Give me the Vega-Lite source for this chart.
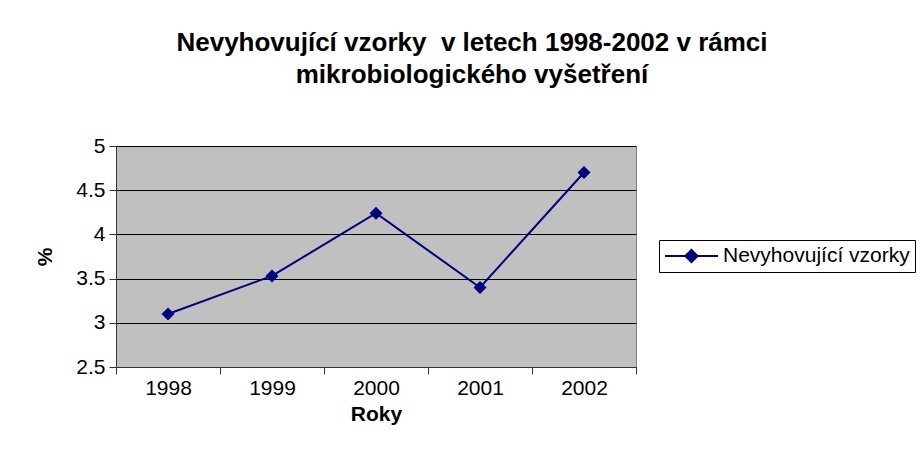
{
  "$schema": "https://vega.github.io/schema/vega-lite/v6.json",
  "width": 520,
  "height": 221,
  "autosize": "none",
  "padding": {"left": 116, "top": 146, "right": 281, "bottom": 101},
  "background": "white",
  "title": {
    "text": ["Nevyhovující vzorky \u00a0v letech 1998-2002 v rámci", "mikrobiologického vyšetření"],
    "font": "Liberation Sans",
    "fontSize": 26,
    "fontWeight": "bold",
    "color": "black",
    "anchor": "middle",
    "dx": 96,
    "lineHeight": 32,
    "offset": 47
  },
  "data": {
    "values": [
      {"year": "1998", "value": 3.1, "series": "Nevyhovující vzorky"},
      {"year": "1999", "value": 3.53, "series": "Nevyhovující vzorky"},
      {"year": "2000", "value": 4.24, "series": "Nevyhovující vzorky"},
      {"year": "2001", "value": 3.4, "series": "Nevyhovující vzorky"},
      {"year": "2002", "value": 4.7, "series": "Nevyhovující vzorky"}
    ]
  },
  "mark": {
    "type": "line",
    "strokeWidth": 2,
    "point": {"shape": "diamond", "size": 170, "filled": true, "opacity": 1}
  },
  "encoding": {
    "x": {
      "field": "year",
      "type": "ordinal",
      "scale": {"paddingInner": 0, "paddingOuter": 0},
      "axis": {
        "title": "Roky",
        "labelAngle": 0,
        "labelFont": "Liberation Sans",
        "labelFontSize": 21,
        "labelColor": "black",
        "labelPadding": 3,
        "titleFont": "Liberation Sans",
        "titleFontSize": 21,
        "titleFontWeight": "bold",
        "titleColor": "black",
        "titlePadding": 5,
        "tickBand": "extent",
        "tickSize": 7,
        "tickColor": "#333333",
        "domainColor": "#333333",
        "grid": false
      }
    },
    "y": {
      "field": "value",
      "type": "quantitative",
      "scale": {"domain": [2.5, 5], "nice": false, "zero": false},
      "axis": {
        "title": "%",
        "values": [2.5, 3, 3.5, 4, 4.5, 5],
        "format": "~g",
        "labelFont": "Liberation Sans",
        "labelFontSize": 21,
        "labelColor": "black",
        "labelPadding": 4,
        "titleFont": "Liberation Sans",
        "titleFontSize": 21,
        "titleFontWeight": "bold",
        "titleColor": "black",
        "titlePadding": 20,
        "tickSize": 7,
        "tickColor": "#333333",
        "domainColor": "#333333",
        "grid": true,
        "gridColor": "black",
        "gridOpacity": 1,
        "gridWidth": 1
      }
    },
    "color": {
      "field": "series",
      "type": "nominal",
      "scale": {"range": ["#000080"]},
      "legend": {
        "title": null,
        "orient": "none",
        "legendX": 543,
        "legendY": 94,
        "strokeColor": "black",
        "fillColor": "white",
        "padding": 5,
        "clipHeight": 22,
        "labelFont": "Liberation Sans",
        "labelFontSize": 21,
        "labelColor": "black",
        "labelOffset": 4,
        "labelLimit": 400,
        "symbolType": "M-1,0L1,0M-0.23,0L0,-0.23L0.23,0L0,0.23Z",
        "symbolSize": 2809,
        "symbolStrokeWidth": 2,
        "symbolStrokeColor": "#000080",
        "symbolFillColor": "#000080"
      }
    }
  },
  "config": {
    "view": {"fill": "#C0C0C0", "stroke": "#808080", "strokeWidth": 1}
  }
}
